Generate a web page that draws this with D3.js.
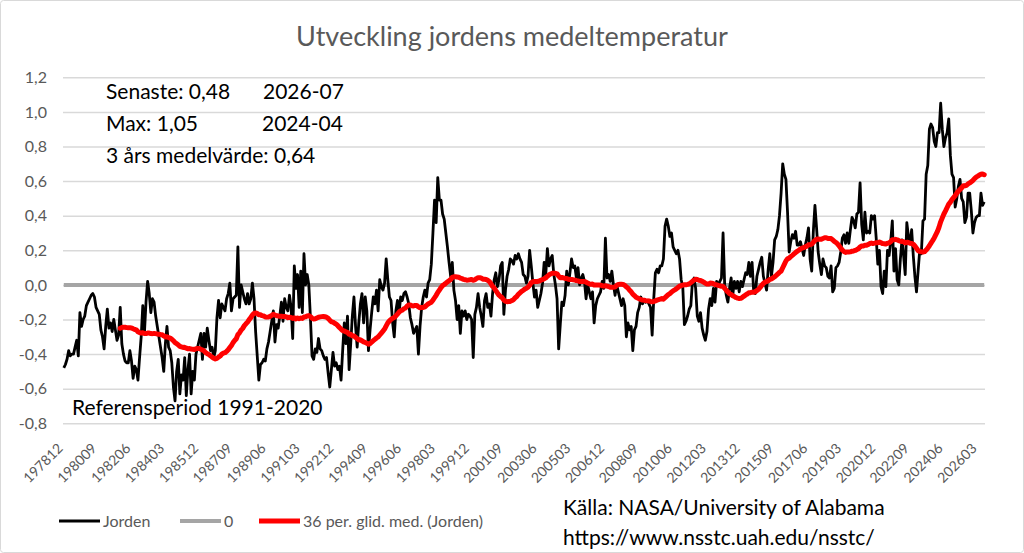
<!DOCTYPE html>
<html lang="sv">
<head>
<meta charset="utf-8">
<title>Utveckling jordens medeltemperatur</title>
<script src="https://cdn.jsdelivr.net/npm/d3@7"></script>
<style>
    html, body { margin: 0; padding: 0; background: #fff; }
    svg { display: block; }
    .ui { font-family: Lato, "Open Sans", sans-serif; }
</style>
</head>
<body>
<div id="chart"></div>
<script>
// UAH global lower troposphere anomaly (°C, ref. 1991-2020), one value per month,
// first value is 1978-12, last is 2026-07. Read off the reference picture.
const jorden = [
    -0.48,
    -0.46, -0.43, -0.38, -0.41, -0.40, -0.40, -0.36, -0.32, -0.41, -0.16, -0.24, -0.20, // 1979
    -0.18, -0.12, -0.10, -0.08, -0.06, -0.05, -0.07, -0.13, -0.15, -0.17, -0.26, -0.30, // 1980
    -0.37, -0.24, -0.14, -0.25, -0.22, -0.27, -0.20, -0.26, -0.32, -0.29, -0.13, -0.34, // 1981
    -0.40, -0.44, -0.45, -0.45, -0.38, -0.44, -0.54, -0.47, -0.49, -0.55, -0.42, -0.30, // 1982
    -0.12, -0.28, -0.10, 0.02, -0.05, -0.16, -0.08, -0.10, -0.18, -0.24, -0.30, -0.36,  // 1983
    -0.42, -0.50, -0.34, -0.24, -0.36, -0.38, -0.45, -0.59, -0.67, -0.50, -0.43, -0.63, // 1984
    -0.52, -0.55, -0.42, -0.64, -0.49, -0.40, -0.63, -0.50, -0.55, -0.40, -0.36, -0.32, // 1985
    -0.28, -0.43, -0.28, -0.36, -0.25, -0.32, -0.38, -0.36, -0.42, -0.38, -0.19, -0.09, // 1986
    -0.19, -0.11, -0.13, -0.15, -0.08, -0.05, 0.01, -0.15, -0.08, -0.07, -0.06, 0.22,   // 1987
    -0.13, 0.00, -0.04, -0.08, -0.11, -0.05, -0.11, -0.08, 0.01, -0.08, -0.27, -0.41,   // 1988
    -0.55, -0.46, -0.45, -0.43, -0.44, -0.37, -0.33, -0.27, -0.21, -0.15, -0.33, -0.23, // 1989
    -0.25, -0.18, -0.10, -0.21, -0.08, -0.13, -0.15, -0.06, -0.13, -0.31, 0.11, -0.02,  // 1990
    0.06, -0.13, 0.08, -0.16, 0.18, 0.00, 0.06, 0.00, -0.19, -0.41, -0.43, -0.37,       // 1991
    -0.39, -0.31, -0.37, -0.38, -0.41, -0.43, -0.42, -0.51, -0.59, -0.49, -0.39, -0.47, // 1992
    -0.45, -0.49, -0.47, -0.55, -0.38, -0.22, -0.34, -0.18, -0.49, -0.34, -0.18, -0.07, // 1993
    -0.24, -0.36, -0.22, -0.11, -0.05, -0.22, -0.07, -0.15, -0.38, -0.26, -0.16, -0.07, // 1994
    -0.11, -0.03, -0.15, 0.03, -0.01, -0.03, 0.01, 0.15, 0.03, -0.07, -0.09, -0.22,     // 1995
    -0.30, -0.15, -0.09, -0.16, -0.07, -0.09, -0.05, -0.04, -0.07, -0.11, -0.19, -0.23, // 1996
    -0.28, -0.26, -0.24, -0.40, -0.24, -0.13, -0.07, -0.03, -0.07, 0.01, 0.03, 0.12,    // 1997
    0.30, 0.49, 0.36, 0.62, 0.49, 0.49, 0.41, 0.38, 0.30, 0.22, 0.13, 0.05,             // 1998
    0.13, -0.03, -0.09, -0.20, -0.12, -0.28, -0.15, -0.18, -0.15, -0.20, -0.17, -0.18,  // 1999
    -0.20, -0.42, -0.17, -0.13, -0.05, -0.13, -0.18, -0.24, -0.09, -0.05, -0.13, -0.11, // 2000
    -0.18, -0.05, 0.03, 0.07, -0.01, 0.03, 0.11, 0.13, -0.17, -0.03, 0.05, 0.09,        // 2001
    0.15, 0.14, 0.12, 0.17, 0.15, 0.18, 0.15, 0.13, 0.06, 0.05, 0.01, 0.05,             // 2002
    0.20, 0.11, 0.01, -0.07, -0.03, -0.13, -0.09, -0.05, 0.01, 0.13, 0.06, 0.21,        // 2003
    0.11, 0.15, 0.17, 0.06, 0.00, -0.08, -0.37, -0.23, -0.10, -0.12, -0.06, 0.08,       // 2004
    0.00, 0.07, 0.15, 0.10, 0.11, 0.04, 0.10, 0.00, 0.04, 0.06, 0.02, -0.08,            // 2005
    0.00, -0.04, -0.08, -0.04, -0.22, -0.12, -0.08, -0.06, -0.04, 0.02, -0.02, 0.27,    // 2006
    0.04, 0.06, 0.02, 0.08, 0.00, -0.06, 0.00, -0.04, -0.08, -0.12, -0.08, -0.12,       // 2007
    -0.30, -0.22, -0.26, -0.24, -0.38, -0.26, -0.24, -0.16, -0.13, -0.07, -0.11, -0.09, // 2008
    -0.10, -0.09, -0.11, -0.13, -0.29, -0.08, 0.07, 0.09, 0.07, 0.11, 0.11, 0.15,       // 2009
    0.34, 0.38, 0.34, 0.28, 0.30, 0.22, 0.20, 0.18, 0.20, 0.15, 0.03, -0.01,            // 2010
    -0.23, -0.21, -0.18, -0.14, -0.12, 0.02, 0.04, -0.02, -0.18, -0.21, -0.16, -0.25,   // 2011
    -0.29, -0.32, -0.27, -0.14, -0.08, -0.12, -0.02, -0.10, 0.02, 0.00, 0.02, 0.04,     // 2012
    0.30, 0.00, -0.06, -0.10, -0.02, 0.04, -0.06, 0.02, -0.02, 0.02, -0.04, 0.02,       // 2013
    -0.01, 0.03, 0.07, 0.06, 0.13, 0.05, 0.13, -0.04, -0.05, 0.05, 0.09, 0.13,          // 2014
    0.16, 0.05, 0.01, -0.03, 0.09, 0.18, 0.05, 0.13, 0.26, 0.28, 0.32, 0.40,            // 2015
    0.53, 0.70, 0.64, 0.61, 0.42, 0.19, 0.25, 0.29, 0.27, 0.31, 0.23, 0.23,             // 2016
    0.25, 0.21, 0.17, 0.23, 0.27, 0.33, 0.15, 0.08, 0.31, 0.46, 0.33, 0.19,             // 2017
    0.12, 0.06, 0.15, 0.11, 0.10, 0.05, 0.04, 0.11, -0.04, -0.02, 0.10, 0.11,           // 2018
    0.13, 0.19, 0.27, 0.29, 0.24, 0.30, 0.24, 0.32, 0.39, 0.37, 0.33, 0.41,             // 2019
    0.42, 0.59, 0.35, 0.26, 0.42, 0.30, 0.31, 0.30, 0.40, 0.38, 0.40, 0.27,             // 2020
    0.12, 0.20, -0.01, -0.05, 0.08, -0.01, 0.20, 0.17, 0.25, 0.37, 0.08, 0.21,          // 2021
    0.03, 0.00, 0.15, 0.26, 0.17, 0.06, 0.36, 0.28, 0.24, 0.32, 0.17, 0.05,             // 2022
    -0.04, 0.08, 0.20, 0.18, 0.37, 0.38, 0.64, 0.69, 0.90, 0.93, 0.91, 0.83,            // 2023
    0.80, 0.88, 0.88, 1.05, 0.90, 0.80, 0.85, 0.88, 0.96, 0.75, 0.64, 0.62,             // 2024
    0.45, 0.50, 0.57, 0.61, 0.50, 0.48, 0.36, 0.39, 0.53, 0.53, 0.43, 0.30,             // 2025
    0.36, 0.39, 0.40, 0.40, 0.53, 0.46, 0.48                                            // 2026
];

const FIRST_MONTH = { year: 1978, month: 12 };
const MA_PERIOD = 36;

const tickLabels = [
    '197812', '198009', '198206', '198403', '198512', '198709', '198906', '199103',
    '199212', '199409', '199606', '199803', '199912', '200109', '200306', '200503',
    '200612', '200809', '201006', '201203', '201312', '201509', '201706', '201903',
    '202012', '202209', '202406', '202603'
];
const yTickValues = [-0.8, -0.6, -0.4, -0.2, 0, 0.2, 0.4, 0.6, 0.8, 1.0, 1.2];
const legendLabels = ['Jorden', '0', '36 per. glid. med. (Jorden)'];

const TITLE = 'Utveckling jordens medeltemperatur';
const REF_TEXT = 'Referensperiod 1991-2020';
const SOURCE_LINES = ['Källa: NASA/University of Alabama', 'https://www.nsstc.uah.edu/nsstc/'];

const WIDTH = 1024;
const HEIGHT = 553;
const PLOT = { left: 63, right: 985, top: 77.3, bottom: 423.3 };
const COLORS = { text: '#595959', grid: '#d9d9d9', zero: '#a5a5a5', line: '#000000', avg: '#ff0000' };

// category labels yyyymm, one per value
const months = jorden.map((_, i) => {
    const t = FIRST_MONTH.year * 12 + (FIRST_MONTH.month - 1) + i;
    return `${Math.floor(t / 12)}${String(t % 12 + 1).padStart(2, '0')}`;
});

const sv = d3.formatLocale({ decimal: ',', thousands: ' ', grouping: [3], currency: ['', ' kr'], minus: '-' });
const fmt1 = sv.format('.1f');
const fmt2 = sv.format('.2f');
const ym = m => `${m.slice(0, 4)}-${m.slice(4)}`;

// trailing moving average, as the chart's trendline does
const movingAvg = jorden.map((_, i) =>
    i < MA_PERIOD - 1 ? null : d3.mean(jorden.slice(i - MA_PERIOD + 1, i + 1)));

function draw() {
    const svg = d3.select('#chart').append('svg')
        .attr('width', WIDTH)
        .attr('height', HEIGHT);

    svg.append('rect')
        .attr('x', 0.5).attr('y', 0.5)
        .attr('width', WIDTH - 1).attr('height', HEIGHT - 1)
        .attr('rx', 3)
        .attr('fill', '#fff')
        .attr('stroke', COLORS.grid);

    const x = d3.scalePoint().domain(months).range([PLOT.left, PLOT.right]).padding(0.5);
    const y = d3.scaleLinear().domain([-0.8, 1.2]).range([PLOT.bottom, PLOT.top]);

    svg.append('text')
        .attr('class', 'ui')
        .attr('x', WIDTH / 2).attr('y', 46)
        .attr('text-anchor', 'middle')
        .attr('font-size', 27)
        .attr('fill', COLORS.text)
        .text(TITLE);

    // value axis with gridlines
    const yAxis = svg.append('g')
        .attr('transform', `translate(${PLOT.left},0)`)
        .call(d3.axisLeft(y)
            .tickValues(yTickValues)
            .tickFormat(fmt1)
            .tickSize(-(PLOT.right - PLOT.left))
            .tickPadding(16));
    yAxis.select('.domain').remove();
    yAxis.selectAll('.tick line').attr('stroke', COLORS.grid).attr('stroke-width', 1.5);
    yAxis.selectAll('.tick text')
        .attr('class', 'ui')
        .attr('font-size', 16)
        .attr('fill', COLORS.text);

    // category axis, every 21st month
    const xAxis = svg.append('g')
        .attr('transform', `translate(0,${PLOT.bottom})`)
        .call(d3.axisBottom(x).tickValues(tickLabels).tickSize(0));
    xAxis.select('.domain').remove();
    xAxis.selectAll('.tick text')
        .attr('class', 'ui')
        .attr('font-size', 14)
        .attr('fill', COLORS.text)
        .attr('x', 0).attr('y', 0).attr('dy', '0.35em')
        .attr('transform', 'translate(-4,22.5) rotate(-45)')
        .style('text-anchor', 'end');

    // "0" series
    svg.append('line')
        .attr('x1', x(months[0])).attr('x2', x(months[months.length - 1]))
        .attr('y1', y(0)).attr('y2', y(0))
        .attr('stroke', COLORS.zero)
        .attr('stroke-width', 4);

    const line = d3.line()
        .defined(d => d[1] !== null)
        .x(d => x(d[0]))
        .y(d => y(d[1]));

    svg.append('path')
        .attr('d', line(months.map((m, i) => [m, jorden[i]])))
        .attr('fill', 'none')
        .attr('stroke', COLORS.line)
        .attr('stroke-width', 2.8)
        .attr('stroke-linejoin', 'round');

    svg.append('path')
        .attr('d', line(months.map((m, i) => [m, movingAvg[i]])))
        .attr('fill', 'none')
        .attr('stroke', COLORS.avg)
        .attr('stroke-width', 5)
        .attr('stroke-linejoin', 'round')
        .attr('stroke-linecap', 'round');

    // summary box
    const last = jorden.length - 1;
    const maxVal = d3.max(jorden);
    const maxIdx = jorden.indexOf(maxVal);
    const mean3 = d3.mean(jorden.slice(-MA_PERIOD));
    const notes = [
        { text: `Senaste: ${fmt2(jorden[last])}`, x: 106, y: 99 },
        { text: ym(months[last]), x: 263, y: 99 },
        { text: `Max: ${fmt2(maxVal)}`, x: 106, y: 131 },
        { text: ym(months[maxIdx]), x: 262, y: 131 },
        { text: `3 års medelvärde: ${fmt2(mean3)}`, x: 106, y: 163 },
        { text: REF_TEXT, x: 72, y: 415 }
    ];
    svg.append('g').selectAll('text')
        .data(notes)
        .join('text')
        .attr('class', 'ui')
        .attr('x', d => d.x).attr('y', d => d.y)
        .attr('font-size', 21)
        .attr('fill', '#000')
        .text(d => d.text);

    // legend
    const legendItems = [
        { label: legendLabels[0], color: COLORS.line, width: 3, x: 59 },
        { label: legendLabels[1], color: COLORS.zero, width: 4, x: 180 },
        { label: legendLabels[2], color: COLORS.avg, width: 5, x: 259 }
    ];
    const legend = svg.append('g').attr('transform', 'translate(0,521)');
    const item = legend.selectAll('g').data(legendItems).join('g')
        .attr('transform', d => `translate(${d.x},0)`);
    item.append('line')
        .attr('x1', 0).attr('x2', 41)
        .attr('stroke', d => d.color)
        .attr('stroke-width', d => d.width);
    item.append('text')
        .attr('class', 'ui')
        .attr('x', 44).attr('dy', '0.35em')
        .attr('font-size', 16)
        .attr('fill', COLORS.text)
        .text(d => d.label);

    svg.append('g').selectAll('text')
        .data(SOURCE_LINES)
        .join('text')
        .attr('class', 'ui')
        .attr('x', 563)
        .attr('y', (d, i) => 515 + i * 30)
        .attr('font-size', 21)
        .attr('fill', '#000')
        .text(d => d);
}

draw();
</script>
</body>
</html>
